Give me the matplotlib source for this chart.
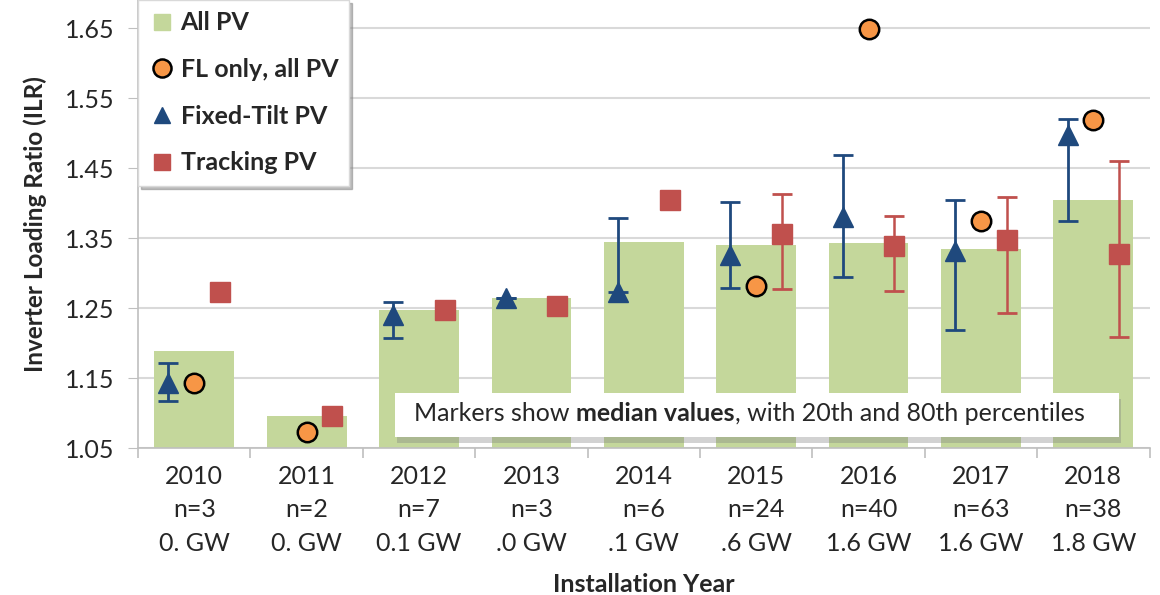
import numpy as np
import matplotlib
matplotlib.use("Agg")
import matplotlib.pyplot as plt
from matplotlib.lines import Line2D
from matplotlib.patches import Rectangle

plt.rcParams['font.family'] = ['Lato', 'DejaVu Sans']

years = ['2010', '2011', '2012', '2013', '2014', '2015', '2016', '2017', '2018']
n_counts = ['n=3', 'n=2', 'n=7', 'n=3', 'n=6', 'n=24', 'n=40', 'n=63', 'n=38']
capacity = ['0. GW', '0. GW', '0.1 GW', '.0 GW', '.1 GW', '.6 GW', '1.6 GW', '1.6 GW', '1.8 GW']

all_pv = [1.189, 1.096, 1.247, 1.264, 1.345, 1.340, 1.343, 1.334, 1.405]
fl_only = [1.143, 1.073, np.nan, np.nan, np.nan, 1.281, 1.649, 1.374, 1.519]

fixed_med = [1.143, np.nan, 1.240, 1.264, 1.273, 1.326, 1.380, 1.331, 1.497]
fixed_p20 = [1.117, np.nan, 1.207, 1.264, 1.273, 1.279, 1.295, 1.218, 1.375]
fixed_p80 = [1.171, np.nan, 1.259, 1.264, 1.378, 1.401, 1.469, 1.405, 1.520]

track_med = [1.273, 1.096, 1.247, 1.253, 1.404, 1.356, 1.339, 1.347, 1.327]
track_p20 = [1.273, 1.096, 1.247, 1.253, 1.404, 1.277, 1.274, 1.243, 1.208]
track_p80 = [1.273, 1.096, 1.247, 1.253, 1.404, 1.413, 1.381, 1.409, 1.460]

green = '#C4D79B'
orange = '#F79646'
blue = '#1F497D'
red = '#C0504D'
txt = '#262626'
fs = 18

fig = plt.figure(figsize=(11.6, 5.95), dpi=100)
ax = fig.add_axes([0.119, 0.247, 0.872, 0.753])

x = np.arange(len(years))
off = 0.23

ax.bar(x, all_pv, width=0.71, bottom=0, color=green, zorder=2)

fm = np.array(fixed_med)
ax.errorbar(x - off, fm, yerr=[fm - np.array(fixed_p20), np.array(fixed_p80) - fm],
            fmt='^', color=blue, ms=15, elinewidth=2, capsize=7, capthick=2, zorder=4)
tm = np.array(track_med)
ax.errorbar(x + off, tm, yerr=[tm - np.array(track_p20), np.array(track_p80) - tm],
            fmt='s', color=red, ms=14, elinewidth=1.8, capsize=7, capthick=2, zorder=4)
ax.plot(x, fl_only, 'o', color=orange, mec='black', mew=1.8, ms=14, zorder=5)

ax.set_ylim(1.05, 1.69)
ax.set_xlim(-0.5, len(years) - 0.5)
yt = np.arange(1.05, 1.66, 0.1)
ax.set_yticks(yt)
ax.set_yticklabels([f'{v:.2f}' for v in yt])
ax.grid(axis='y', color='#D9D9D9', lw=1.5, zorder=0)
ax.set_axisbelow(True)

ax.set_xticks(x)
ax.set_xticklabels([f'{y}\n{n}\n{c}' for y, n, c in zip(years, n_counts, capacity)],
                   linespacing=1.55)
ax.set_xticks(np.arange(-0.5, len(years)), minor=True)
ax.tick_params(axis='x', which='major', length=0, labelsize=fs, colors=txt, pad=12)
ax.tick_params(axis='x', which='minor', length=7, color='#BFBFBF', width=1.2)
ax.tick_params(axis='y', length=7, color='#BFBFBF', labelsize=fs, labelcolor=txt, pad=10)

for s in ['top', 'right']:
    ax.spines[s].set_visible(False)
for s in ['left', 'bottom']:
    ax.spines[s].set_color('#BFBFBF')
    ax.spines[s].set_linewidth(1.2)

ax.set_ylabel('Inverter Loading Ratio (ILR)', fontsize=17.5, fontweight='bold', color=txt, labelpad=13)
ax.set_xlabel('Installation Year', fontsize=fs, fontweight='bold', color=txt, labelpad=13)

# legend
handles = [
    Line2D([], [], ls='none', marker='s', color=green, ms=11),
    Line2D([], [], ls='none', marker='o', color=orange, mec='black', mew=1.8, ms=13),
    Line2D([], [], ls='none', marker='^', color=blue, ms=11),
    Line2D([], [], ls='none', marker='s', color=red, ms=11),
]
labels = ['All PV', 'FL only, all PV', 'Fixed-Tilt PV', 'Tracking PV']
leg = ax.legend(handles, labels, loc='upper left', bbox_to_anchor=(0.0, 1.0),
                prop={'size': fs, 'weight': 'bold'}, frameon=True, fancybox=False,
                shadow={'color': '#808080', 'alpha': 0.5}, borderpad=0.45, labelspacing=0.95,
                handletextpad=0.25, handlelength=1.0, borderaxespad=0.0)
leg.get_frame().set_edgecolor('#D9D9D9')
leg.get_frame().set_linewidth(1.0)
for t in leg.get_texts():
    t.set_color(txt)
leg.set_zorder(10)

# note box with a soft drop shadow
ax.add_patch(Rectangle((0.256, 0.012), 0.716, 0.098, transform=ax.transAxes,
                       facecolor='#7F7F7F', alpha=0.35, edgecolor='none', zorder=5.5))
ax.add_patch(Rectangle((0.254, 0.025), 0.716, 0.098, transform=ax.transAxes,
                       facecolor='white', edgecolor='none', zorder=6))
t1 = ax.text(0.273, 0.076, 'Markers show ', transform=ax.transAxes, fontsize=fs,
             va='center', ha='left', color=txt, zorder=7)
t2 = ax.annotate('median values', xy=(1, 0), xycoords=t1, va='bottom', ha='left',
                 fontsize=fs, fontweight='bold', color=txt, zorder=7)
ax.annotate(', with 20th and 80th percentiles', xy=(1, 0), xycoords=t2, va='bottom',
            ha='left', fontsize=fs, color=txt, zorder=7)

fig.savefig('out.png', dpi=100)
